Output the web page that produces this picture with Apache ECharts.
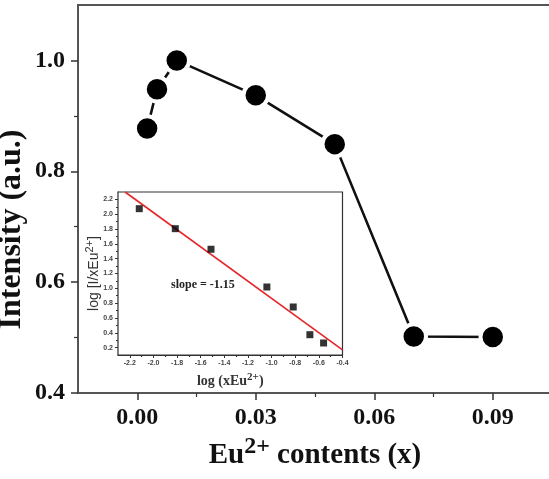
<!DOCTYPE html>
<html>
<head>
<meta charset="utf-8">
<script src="https://cdn.jsdelivr.net/npm/echarts@6/dist/echarts.min.js"></script>
<style>
  html, body { margin: 0; padding: 0; background: #fff; }
  #chart { width: 549px; height: 479px; }
</style>
</head>
<body>
<div id="chart"></div>
<script>
// main plot: intensity vs Eu2+ content
const euContent = [0.0025, 0.005, 0.01, 0.03, 0.05, 0.07, 0.09];
const intensity = [0.877, 0.948, 1.0, 0.937, 0.849, 0.502, 0.501];
const xTicks = [0, 0.03, 0.06, 0.09];
const xMinorTicks = [0.015, 0.045, 0.075];
const yTicks = [0.4, 0.6, 0.8, 1.0];
const yMinorTicks = [0.5, 0.7, 0.9];

// inset: log(I/x) vs log(x)
const logX = [-2.12, -1.815, -1.513, -1.04, -0.817, -0.676, -0.56];
const logY = [2.075, 1.805, 1.527, 1.018, 0.748, 0.374, 0.262];
const fitX = [-2.24, -0.4];
const fitY = [2.3, 0.17];
const insetXTicks = [-2.2, -2.0, -1.8, -1.6, -1.4, -1.2, -1.0, -0.8, -0.6, -0.4];
const insetXMinor = [-2.1, -1.9, -1.7, -1.5, -1.3, -1.1, -0.9, -0.7, -0.5];
const insetYTicks = [0.2, 0.4, 0.6, 0.8, 1.0, 1.2, 1.4, 1.6, 1.8, 2.0, 2.2];
const insetYMinor = [0.3, 0.5, 0.7, 0.9, 1.1, 1.3, 1.5, 1.7, 1.9, 2.1];

const serif = "'Liberation Serif', 'Times New Roman', serif";
const sans = "'Liberation Sans', Arial, sans-serif";

const zip = (a, b) => a.map((v, i) => [v, b[i]]);

// axis used only to draw the short minor ticks
function minorAxis(extra, values, len, color) {
  return Object.assign({
    type: 'value',
    axisLine: { show: false, onZero: false, lineStyle: { opacity: 0 } },
    splitLine: { show: false },
    axisLabel: { show: false },
    axisTick: { show: true, length: len, customValues: values, lineStyle: { color: color, width: 1.2 } }
  }, extra);
}

const chart = echarts.init(document.getElementById('chart'));

const option = {
  animation: false,
  backgroundColor: '#fff',
  grid: [
    { left: 78, top: 5, width: 474, height: 388, show: true, borderColor: '#555', borderWidth: 2, outerBoundsMode: 'none' },
    { left: 118, top: 192, width: 224.5, height: 163, show: true, backgroundColor: '#fff', borderColor: '#333', borderWidth: 1.2, outerBoundsMode: 'none', z: 3 }
  ],
  title: {
    text: 'slope = -1.15',
    left: 171,
    top: 279,
    padding: 0,
    textStyle: { fontFamily: serif, fontWeight: 'bold', fontSize: 12, color: '#222' },
    z: 10
  },
  xAxis: [
    {
      type: 'value', gridIndex: 0, min: -0.015, max: 0.105, position: 'bottom',
      name: '{m|Eu}{s|2+}{m| contents (x)}',
      nameLocation: 'middle', nameGap: 46, nameMoveOverlap: false,
      nameTextStyle: {
        rich: {
          m: { fontFamily: serif, fontWeight: 'bold', fontSize: 29, color: '#111', lineHeight: 34 },
          s: { fontFamily: serif, fontWeight: 'bold', fontSize: 24, color: '#111', lineHeight: 24, padding: [0, 0, 18, 0] }
        }
      },
      axisLine: { show: true, onZero: false, lineStyle: { color: '#555', width: 2 } },
      splitLine: { show: false },
      axisTick: { show: true, length: 7, customValues: xTicks, lineStyle: { color: '#333', width: 1.5 } },
      axisLabel: {
        customValues: xTicks, margin: 13,
        fontFamily: serif, fontWeight: 'bold', fontSize: 24, color: '#111',
        formatter: v => v.toFixed(2)
      }
    },
    minorAxis({ gridIndex: 0, min: -0.015, max: 0.105, position: 'bottom' }, xMinorTicks, 4, '#333'),
    {
      type: 'value', gridIndex: 1, min: -2.3, max: -0.4, position: 'bottom',
      name: '{a|log (xEu}{s|2+}{a|)}',
      nameLocation: 'middle', nameGap: 18, nameMoveOverlap: false,
      nameTextStyle: {
        rich: {
          a: { fontFamily: serif, fontWeight: 'bold', fontSize: 14, color: '#333', lineHeight: 16 },
          s: { fontFamily: serif, fontWeight: 'bold', fontSize: 11, color: '#333', lineHeight: 11, padding: [0, 0, 8, 0] }
        }
      },
      axisLine: { show: true, onZero: false, lineStyle: { color: '#333', width: 1.2 } },
      splitLine: { show: false },
      axisTick: { show: true, length: 3, customValues: insetXTicks, lineStyle: { color: '#333', width: 1 } },
      axisLabel: {
        customValues: insetXTicks, margin: 5,
        fontFamily: sans, fontWeight: 'bold', fontSize: 7, color: '#444',
        formatter: v => v.toFixed(1)
      }
    },
    minorAxis({ gridIndex: 1, min: -2.3, max: -0.4, position: 'bottom' }, insetXMinor, 2, '#333')
  ],
  yAxis: [
    {
      type: 'value', gridIndex: 0, min: 0.4, max: 1.1, position: 'left',
      name: 'Intensity (a.u.)',
      nameLocation: 'middle', nameRotate: 90, nameGap: 50, nameMoveOverlap: false,
      nameTextStyle: { fontFamily: serif, fontWeight: 'bold', fontSize: 32, color: '#111', padding: [0, 61, 0, 0] },
      axisLine: { show: true, onZero: false, lineStyle: { color: '#555', width: 2 } },
      splitLine: { show: false },
      axisTick: { show: true, length: 7, customValues: yTicks, lineStyle: { color: '#333', width: 1.5 } },
      axisLabel: {
        customValues: yTicks, margin: 13,
        fontFamily: serif, fontWeight: 'bold', fontSize: 24, color: '#111',
        formatter: v => v.toFixed(1)
      }
    },
    minorAxis({ gridIndex: 0, min: 0.4, max: 1.1, position: 'left' }, yMinorTicks, 4, '#333'),
    {
      type: 'value', gridIndex: 1, min: 0.1, max: 2.3, position: 'left',
      name: '{a|log [I/xEu}{s|2+}{a|]}',
      nameLocation: 'middle', nameRotate: 90, nameGap: 16, nameMoveOverlap: false,
      nameTextStyle: {
        rich: {
          a: { fontFamily: sans, fontSize: 14, color: '#333', lineHeight: 16 },
          s: { fontFamily: sans, fontSize: 11, color: '#333', lineHeight: 11, padding: [0, 0, 8, 0] }
        }
      },
      axisLine: { show: true, onZero: false, lineStyle: { color: '#333', width: 1.2 } },
      splitLine: { show: false },
      axisTick: { show: true, length: 3, customValues: insetYTicks, lineStyle: { color: '#333', width: 1 } },
      axisLabel: {
        customValues: insetYTicks, margin: 5,
        fontFamily: sans, fontWeight: 'bold', fontSize: 7, color: '#444',
        formatter: v => v.toFixed(1)
      }
    },
    minorAxis({ gridIndex: 1, min: 0.1, max: 2.3, position: 'left' }, insetYMinor, 2, '#333')
  ],
  series: [
    {
      type: 'line',
      xAxisIndex: 0, yAxisIndex: 0,
      data: zip(euContent, intensity),
      symbol: 'circle', symbolSize: 24.5,
      itemStyle: { color: '#000', borderColor: '#fff', borderWidth: 4 },
      lineStyle: { color: '#111', width: 2.6 },
      z: 2
    },
    {
      type: 'line',
      xAxisIndex: 2, yAxisIndex: 2,
      data: zip(fitX, fitY),
      symbol: 'none',
      lineStyle: { color: '#e5262a', width: 1.6 },
      z: 5
    },
    {
      type: 'scatter',
      xAxisIndex: 2, yAxisIndex: 2,
      data: zip(logX, logY),
      symbol: 'rect', symbolSize: 7,
      itemStyle: { color: '#000' },
      z: 6
    }
  ]
};

chart.setOption(option);
</script>
</body>
</html>
